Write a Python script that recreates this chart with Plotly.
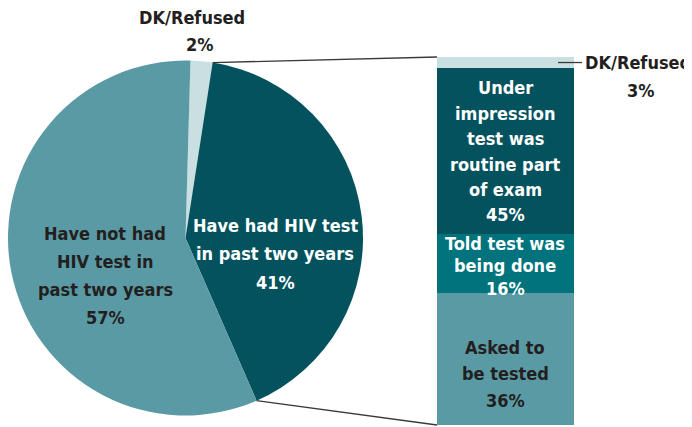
import math
import plotly.graph_objects as go

# the page body has an 8px default margin, so the figure is drawn 8px in
OFF = 8
W, H = 692 - OFF, 427 - OFF

# ---------------- data ----------------
pie_labels = ["DK/Refused", "Have had HIV test in past two years",
              "Have not had HIV test in past two years"]
pie_values = [2, 41, 57]
pie_colors = ["#c9dfe2", "#03525d", "#5a9aa4"]

bar_labels = ["Asked to be tested", "Told test was being done",
              "Under impression test was routine part of exam", "DK/Refused"]
bar_values = [36, 16, 45, 3]
bar_colors = ["#5a9aa4", "#00737d", "#03525d", "#c9dfe2"]

# label texts
pie_dk_lines = ["DK/Refused", "2%"]
pie_had_lines = ["Have had HIV test", "in past two years", "41%"]
pie_not_lines = ["Have not had", "HIV test in", "past two years", "57%"]
bar_under_lines = ["Under", "impression", "test was", "routine part", "of exam", "45%"]
bar_told_lines = ["Told test was", "being done", "16%"]
bar_asked_lines = ["Asked to", "be tested", "36%"]
bar_dk_lines = ["DK/Refused", "3%"]

# ---------------- geometry (screen pixels -> paper) ----------------
def px(x):
    return min(1, max(0, (x - OFF) / W))

def py(y):
    return min(1, max(0, 1 - (y - OFF) / H))

pie_cx, pie_cy, pie_r = 185.5, 238, 177.5
rotation = 1.6
pie_dom_x = [px(pie_cx - pie_r), px(pie_cx + pie_r)]
pie_dom_y = [py(pie_cy + pie_r), py(pie_cy - pie_r)]

bar_left, bar_right, bar_top, bar_bottom = 437, 574, 57, 425
bar_dom_x = [px(bar_left), px(bar_right)]
bar_dom_y = [py(bar_bottom), py(bar_top)]

FONT = "DejaVu Sans Condensed, Liberation Sans Narrow, Arial Narrow, sans-serif"
DARK_TXT = "#231f20"
FS = 18

fig = go.Figure()

fig.add_trace(go.Pie(
    labels=pie_labels, values=pie_values, sort=False, direction="clockwise",
    rotation=rotation, marker=dict(colors=pie_colors, line=dict(width=0)),
    textinfo="none", hoverinfo="label+percent", showlegend=False,
    domain=dict(x=pie_dom_x, y=pie_dom_y),
))

for lab, val, col in zip(bar_labels, bar_values, bar_colors):
    fig.add_trace(go.Bar(
        x=[0], y=[val], width=[1], name=lab, marker=dict(color=col, line=dict(width=0)),
        showlegend=False, hoverinfo="name+y", xaxis="x", yaxis="y",
    ))

# connector lines: computed from the "have had" slice boundaries
total = sum(pie_values)
start_frac = pie_values[0] / total
end_frac = (pie_values[0] + pie_values[1]) / total

def pie_point(frac):
    ang = math.radians(frac * 360 + rotation)
    return pie_cx + pie_r * math.sin(ang), pie_cy - pie_r * math.cos(ang)

sx, sy = pie_point(start_frac)
ex, ey = pie_point(end_frac)
bar_total = sum(bar_values)
line_style = dict(color="#3a3a3a", width=1.3)
fig.add_shape(type="line", xref="paper", yref="paper",
              x0=px(sx), y0=py(sy), x1=bar_dom_x[0], y1=bar_dom_y[1], line=line_style)
fig.add_shape(type="line", xref="paper", yref="paper",
              x0=px(ex), y0=py(ey), x1=bar_dom_x[0], y1=bar_dom_y[0], line=line_style)
# leader for bar DK/Refused
dk_mid = bar_total - bar_values[-1] / 2
fig.add_shape(type="line", xref="paper", yref="y",
              x0=px(558), x1=px(582), y0=dk_mid, y1=dk_mid, line=line_style)

annotations = []

def add_lines(lines, xs, y0, dy, color, size=FS):
    if not isinstance(xs, (list, tuple)):
        xs = [xs] * len(lines)
    for i, (t, x) in enumerate(zip(lines, xs)):
        annotations.append(dict(
            text="<b>%s</b>" % t, x=px(x), y=py(y0 + dy * i), xref="paper", yref="paper",
            showarrow=False, xanchor="center", yanchor="middle",
            font=dict(family=FONT, size=size, color=color),
        ))

add_lines(pie_dk_lines, [192, 200], 17, 28, DARK_TXT)
add_lines(pie_had_lines, 275, 225, 28.5, "white")
add_lines(pie_not_lines, 105, 233, 28.3, DARK_TXT)
add_lines(bar_under_lines, 505, 88, 25.4, "white")
add_lines(bar_told_lines, 505, 243, 22.8, "white")
add_lines(bar_asked_lines, 505, 347, 26.5, DARK_TXT)
add_lines(bar_dk_lines, [638, 641], 62, 28, DARK_TXT)

fig.update_layout(
    width=W, height=H, margin=dict(l=0, r=0, t=0, b=0),
    paper_bgcolor="white", plot_bgcolor="white",
    barmode="stack", bargap=0,
    xaxis=dict(domain=bar_dom_x, range=[-0.5, 0.5], visible=False, fixedrange=True),
    yaxis=dict(domain=bar_dom_y, range=[0, bar_total], visible=False, fixedrange=True),
    annotations=annotations,
)

fig.write_html("out.html")
